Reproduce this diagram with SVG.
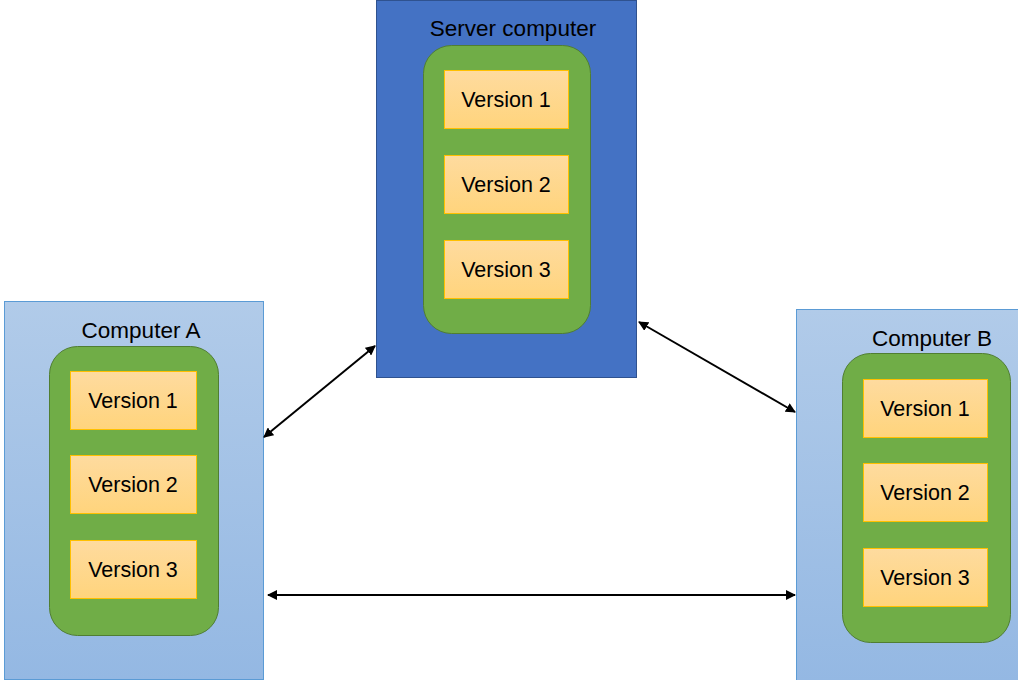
<svg xmlns="http://www.w3.org/2000/svg" width="1018" height="680" viewBox="0 0 1018 680">
<defs>
<linearGradient id="gLight" x1="0" y1="0" x2="0" y2="1">
<stop offset="0" stop-color="#B1CBE9"/>
<stop offset="1" stop-color="#94B8E3"/>
</linearGradient>
<linearGradient id="gVer" x1="0" y1="0" x2="0" y2="1">
<stop offset="0" stop-color="#FEDB9F"/>
<stop offset="1" stop-color="#FFD47C"/>
</linearGradient>
<marker id="ah" viewBox="0 0 10 10" refX="9" refY="5" markerWidth="10" markerHeight="10" markerUnits="userSpaceOnUse" orient="auto-start-reverse">
<path d="M0,0 L10,5 L0,10 Z" fill="#000"/>
</marker>
<style>
.srv{fill:#4472C4;stroke:#2F528F;stroke-width:1}
.comp{fill:url(#gLight);stroke:#5B9BD5;stroke-width:1}
.grn{fill:#70AD47;stroke:#507E32;stroke-width:1}
.ver{fill:url(#gVer);stroke:#FFC000;stroke-width:1}
.t{font-family:"Liberation Sans",Arial,sans-serif;font-size:21.5px;fill:#000;text-anchor:middle}
.h{font-size:22.5px}
.conn{stroke:#000;stroke-width:2;fill:none;marker-start:url(#ah);marker-end:url(#ah)}
</style>
</defs>
<g id="server">
<rect class="srv" x="376.5" y="0.5" width="260" height="377"/>
<text class="t h" x="513" y="36">Server computer</text>
<rect class="grn" x="423.5" y="45.5" width="167" height="288" rx="28"/>
<rect class="ver" x="444.5" y="70.5" width="124" height="58"/>
<text class="t" x="506" y="107">Version 1</text>
<rect class="ver" x="444.5" y="155.5" width="124" height="58"/>
<text class="t" x="506" y="192">Version 2</text>
<rect class="ver" x="444.5" y="240.5" width="124" height="58"/>
<text class="t" x="506" y="277">Version 3</text>
</g>
<g id="computerA">
<rect class="comp" x="4.5" y="301.5" width="259" height="378"/>
<text class="t h" x="141" y="338">Computer A</text>
<rect class="grn" x="49.5" y="346.5" width="169" height="289" rx="28"/>
<rect class="ver" x="70.5" y="371.5" width="126" height="58"/>
<text class="t" x="133" y="408">Version 1</text>
<rect class="ver" x="70.5" y="455.5" width="126" height="58"/>
<text class="t" x="133" y="492">Version 2</text>
<rect class="ver" x="70.5" y="540.5" width="126" height="58"/>
<text class="t" x="133" y="577">Version 3</text>
</g>
<g id="computerB">
<rect class="comp" x="796.5" y="309.5" width="225" height="372"/>
<text class="t h" x="932" y="346">Computer B</text>
<rect class="grn" x="842.5" y="353.5" width="168" height="289" rx="28"/>
<rect class="ver" x="863.5" y="379.5" width="124" height="58"/>
<text class="t" x="925" y="416">Version 1</text>
<rect class="ver" x="863.5" y="463.5" width="124" height="58"/>
<text class="t" x="925" y="500">Version 2</text>
<rect class="ver" x="863.5" y="548.5" width="124" height="58"/>
<text class="t" x="925" y="585">Version 3</text>
</g>
<g id="connectors">
<line class="conn" x1="264" y1="437" x2="375" y2="346"/>
<line class="conn" x1="639" y1="322" x2="795" y2="412"/>
<line class="conn" x1="268" y1="595" x2="795" y2="595"/>
</g>
</svg>
